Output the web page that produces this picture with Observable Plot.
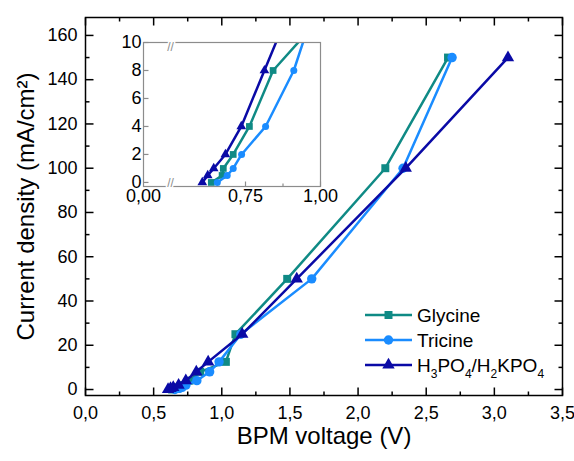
<!DOCTYPE html>
<html><head><meta charset="utf-8">
<script src="https://cdn.jsdelivr.net/npm/d3@7"></script>
<script src="https://cdn.jsdelivr.net/npm/@observablehq/plot@0.6"></script>
<style>
body{margin:0;background:#fff;}
#wrap{position:relative;width:574px;height:461px;overflow:hidden;}
#inset{position:absolute;left:103px;top:30px;}
</style></head><body><div id="wrap"><div id="main"></div><div id="inset"></div></div>
<script>
// ---- data ----
const currentDensity = [0, 0.5, 1, 2, 4, 8, 12.5, 25, 50, 100, 150];
const glycineV   = [0.636, 0.672, 0.676, 0.709, 0.763, 0.842, 1.03, 1.10, 1.48, 2.20, 2.66];
const tricineV   = [0.656, 0.689, 0.709, 0.737, 0.817, 0.911, 0.98, 1.14, 1.66, 2.33, 2.69];
const phosphateV = [0.606, 0.624, 0.644, 0.683, 0.736, 0.813, 0.90, 1.15, 1.55, 2.35, 3.10];
const seriesNames = ["Glycine", "Tricine", "H3PO4/H2KPO4"];
const seriesColors = ["#0f8a85", "#1a8cff", "#0a0aa6"];
const seriesSymbols = ["square", "circle", "triangle"];
const xTicksMain = [0, 0.5, 1, 1.5, 2, 2.5, 3, 3.5];
const xMinorMain = [0.25, 0.75, 1.25, 1.75, 2.25, 2.75, 3.25];
const yTicksMain = [0, 20, 40, 60, 80, 100, 120, 140, 160];
const yMinorMain = [10, 30, 50, 70, 90, 110, 130, 150];
const insetXTicks = [0, 0.75, 1];
const insetXMinor = [0.875];
const insetYTicks = [0, 2, 4, 6, 8, 10];
const insetBreak = [0.5];
const xTitle = "BPM voltage (V)";
const yTitle = "Current density (mA/cm²)";

const font = "'Liberation Sans', Arial, Helvetica, sans-serif";
const allV = [glycineV, tricineV, phosphateV];
const rows = allV.map((vals, s) => vals.map((v, i) => ({V: v, J: currentDensity[i], series: seriesNames[s]})));

// broken inset axis: 0..0.5 compressed, 0.5..1 linear
const squeeze = 0.18;
const toU = v => v >= 0.5 ? v : 0.5 - (0.5 - v) * squeeze;
const fromU = u => u >= 0.5 ? u : 0.5 - (0.5 - u) / squeeze;

const mkTick = (dx, dy) => ({draw(ctx) { ctx.moveTo(0, 0); ctx.lineTo(dx, dy); }});
function tickMarks(xs, ys, len, stroke, sw, sides, fx = d => d) {
  const out = [];
  const o = {stroke, strokeWidth: sw, fill: "none", r: 1};
  if (sides.includes("b")) out.push(Plot.dot(xs, {...o, x: fx, frameAnchor: "bottom", symbol: mkTick(0, -len)}));
  if (sides.includes("t")) out.push(Plot.dot(xs, {...o, x: fx, frameAnchor: "top", symbol: mkTick(0, len)}));
  if (sides.includes("l")) out.push(Plot.dot(ys, {...o, y: d => d, frameAnchor: "left", symbol: mkTick(len, 0)}));
  if (sides.includes("r")) out.push(Plot.dot(ys, {...o, y: d => d, frameAnchor: "right", symbol: mkTick(-len, 0)}));
  return out;
}

const mainSizes = [4.5, 4.7, 4.6];
const insetSizes = [3.8, 3.5, 3.6];

function seriesMarks(sizes, clip, fx) {
  const m = [];
  rows.forEach((r, s) => {
    m.push(Plot.line(r, {x: fx, y: "J", stroke: seriesColors[s], strokeWidth: 2.5, clip}));
    m.push(Plot.dot(r, {x: fx, y: "J", symbol: seriesSymbols[s], r: sizes[s], fill: seriesColors[s], clip}));
  });
  return m;
}

const mainPlot = Plot.plot({
  width: 574, height: 461,
  marginLeft: 85, marginRight: 12, marginTop: 17, marginBottom: 66,
  style: {fontFamily: font, fontSize: "18px", color: "black", background: "white", overflow: "visible"},
  x: {domain: [0, 3.5], ticks: xTicksMain, tickFormat: d => d.toFixed(1).replace(".", ","), tickSize: 0, tickPadding: 11, label: null},
  y: {domain: [-2.7, 168.1], ticks: yTicksMain, tickFormat: d => String(d), tickSize: 0, tickPadding: 8, label: null},
  marks: [
    ...tickMarks(xTicksMain, yTicksMain, 8, "black", 1.5, "btlr"),
    ...tickMarks(xMinorMain, yMinorMain, 4, "black", 1.5, "btlr"),
    ...seriesMarks(mainSizes, false, d => d.V),
    Plot.frame({stroke: "black", strokeWidth: 1.5}),
    Plot.text([xTitle], {text: d => d, frameAnchor: "bottom", dy: 48, fontSize: 24, fill: "black", textAnchor: "middle"}),
    Plot.text([yTitle], {text: d => d, frameAnchor: "left", dx: -59, rotate: -90, fontSize: 24, fill: "black", textAnchor: "middle"})
  ]
});
document.getElementById("main").appendChild(mainPlot);

// legend
const svg = d3.select(mainPlot.tagName.toLowerCase() === "svg" ? mainPlot : mainPlot.querySelector("svg"));
const lg = svg.append("g").attr("font-family", font).attr("font-size", 19).attr("fill", "black").attr("text-anchor", "start");
const symTypes = [d3.symbolSquare, d3.symbolCircle, d3.symbolTriangle];
const labelParts = [
  [["Glycine", false]],
  [["Tricine", false]],
  [["H", false], ["3", true], ["PO", false], ["4", true], ["/H", false], ["2", true], ["KPO", false], ["4", true]]
];
seriesNames.forEach((name, i) => {
  const cy = 315 + 25 * i;
  const g = lg.append("g").attr("transform", `translate(0,${cy})`);
  g.append("line").attr("x1", 365).attr("x2", 412).attr("y1", 0).attr("y2", 0)
    .attr("stroke", seriesColors[i]).attr("stroke-width", 2.5);
  g.append("path").attr("transform", "translate(388.5,0)")
    .attr("d", d3.symbol(symTypes[i], Math.PI * mainSizes[i] * mainSizes[i])())
    .attr("fill", seriesColors[i]);
  const t = g.append("text").attr("x", 417).attr("y", 7).attr("text-anchor", "start");
  let shifted = false;
  labelParts[i].forEach(([s, sub]) => {
    const ts = t.append("tspan").text(s);
    if (sub && !shifted) { ts.attr("dy", 6).attr("font-size", 12); shifted = true; }
    else if (sub) { ts.attr("font-size", 12); }
    else if (shifted) { ts.attr("dy", -6); shifted = false; }
  });
});

// inset
const gray = "#8c8c8c";
const insetPlot = Plot.plot({
  width: 230, height: 185,
  marginLeft: 40, marginRight: 13, marginTop: 12, marginBottom: 29,
  style: {fontFamily: font, fontSize: "18px", color: "black", background: "transparent", overflow: "visible"},
  x: {domain: [toU(0), 1], ticks: insetXTicks.map(toU), tickFormat: u => (Math.abs(Math.round(fromU(u) * 100)) / 100).toFixed(2).replace(".", ","), tickSize: 0, tickPadding: 3, label: null},
  y: {domain: [-0.29, 10], ticks: insetYTicks, tickFormat: d => String(d), tickSize: 0, tickPadding: 2, label: null},
  marks: [
    ...seriesMarks(insetSizes, true, d => toU(d.V)),
    Plot.frame({stroke: gray, strokeWidth: 1.2}),
    ...tickMarks(insetXTicks.slice(1), insetYTicks, 5, gray, 1.2, "bl", toU),
    ...tickMarks(insetXMinor, [], 3, gray, 1.2, "b", toU),
    Plot.text(insetBreak, {x: toU, frameAnchor: "bottom", text: () => "//", fontSize: 12, fill: gray, stroke: "white", strokeWidth: 3, paintOrder: "stroke", textAnchor: "middle"}),
    Plot.text(insetBreak, {x: toU, frameAnchor: "top", text: () => "//", fontSize: 12, fill: gray, stroke: "white", strokeWidth: 3, paintOrder: "stroke", textAnchor: "middle"})
  ]
});
document.getElementById("inset").appendChild(insetPlot);
</script></body></html>
